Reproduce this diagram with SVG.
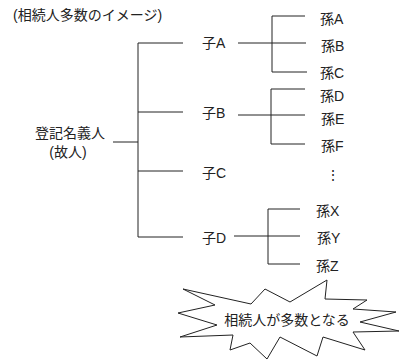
<svg xmlns="http://www.w3.org/2000/svg" width="406" height="360" viewBox="0 0 406 360">
<style>
text{font-family:"Liberation Sans","Noto Sans CJK JP",sans-serif;font-size:14px;fill:#222}
.c{stroke:#222;stroke-width:1;fill:none}
.m{text-anchor:middle}
</style>
<rect width="406" height="360" fill="#fff"/>
<text x="13" y="20">(相続人多数のイメージ)</text>
<g id="connectors" class="c">
<path d="M113,142H138M138,43V237M138,43H183M138,112H183M138,171H183M138,237H183"/>
<path d="M238,43H272M272,16V72M272,16H305M272,43H306M272,72H307"/>
<path d="M238,115H271M271,89V144M271,89H305M271,115H305M271,144H305"/>
<path d="M234,236H268M268,209V264M268,209H300M268,236H300M268,264H300"/>
</g>
<g id="root"><text class="m" x="70" y="138">登記名義人</text><text class="m" x="68" y="157">(故人)</text></g>
<g id="koA"><text x="202" y="48">子A</text></g>
<g id="koB"><text x="202" y="118">子B</text></g>
<g id="koC"><text x="202" y="178">子C</text></g>
<g id="koD"><text x="202" y="243">子D</text></g>
<g id="magoA"><text x="320" y="24">孫A</text></g>
<g id="magoB"><text x="321" y="51">孫B</text></g>
<g id="magoC"><text x="320" y="78">孫C</text></g>
<g id="magoD"><text x="320" y="101">孫D</text></g>
<g id="magoE"><text x="321" y="124">孫E</text></g>
<g id="magoF"><text x="321" y="151">孫F</text></g>
<g id="ellipsis"><text class="m" x="333" y="180">⋮</text></g>
<g id="magoX"><text x="316" y="216">孫X</text></g>
<g id="magoY"><text x="317" y="243">孫Y</text></g>
<g id="magoZ"><text x="316" y="271">孫Z</text></g>
<g id="burst">
<polygon points="183,289 251,304 265,289 290,302 327,280 325,299 367,300 353,309 396,312 360,322 399,331 353,332 365,350 323,337 317,356 280,337 267,359 250,343 230,350 233,335 180,337 217,325 178,313 215,305" fill="#fff" stroke="#222" stroke-width="1" stroke-linejoin="miter"/>
<text class="m" x="287" y="325">相続人が多数となる</text>
</g>
</svg>
